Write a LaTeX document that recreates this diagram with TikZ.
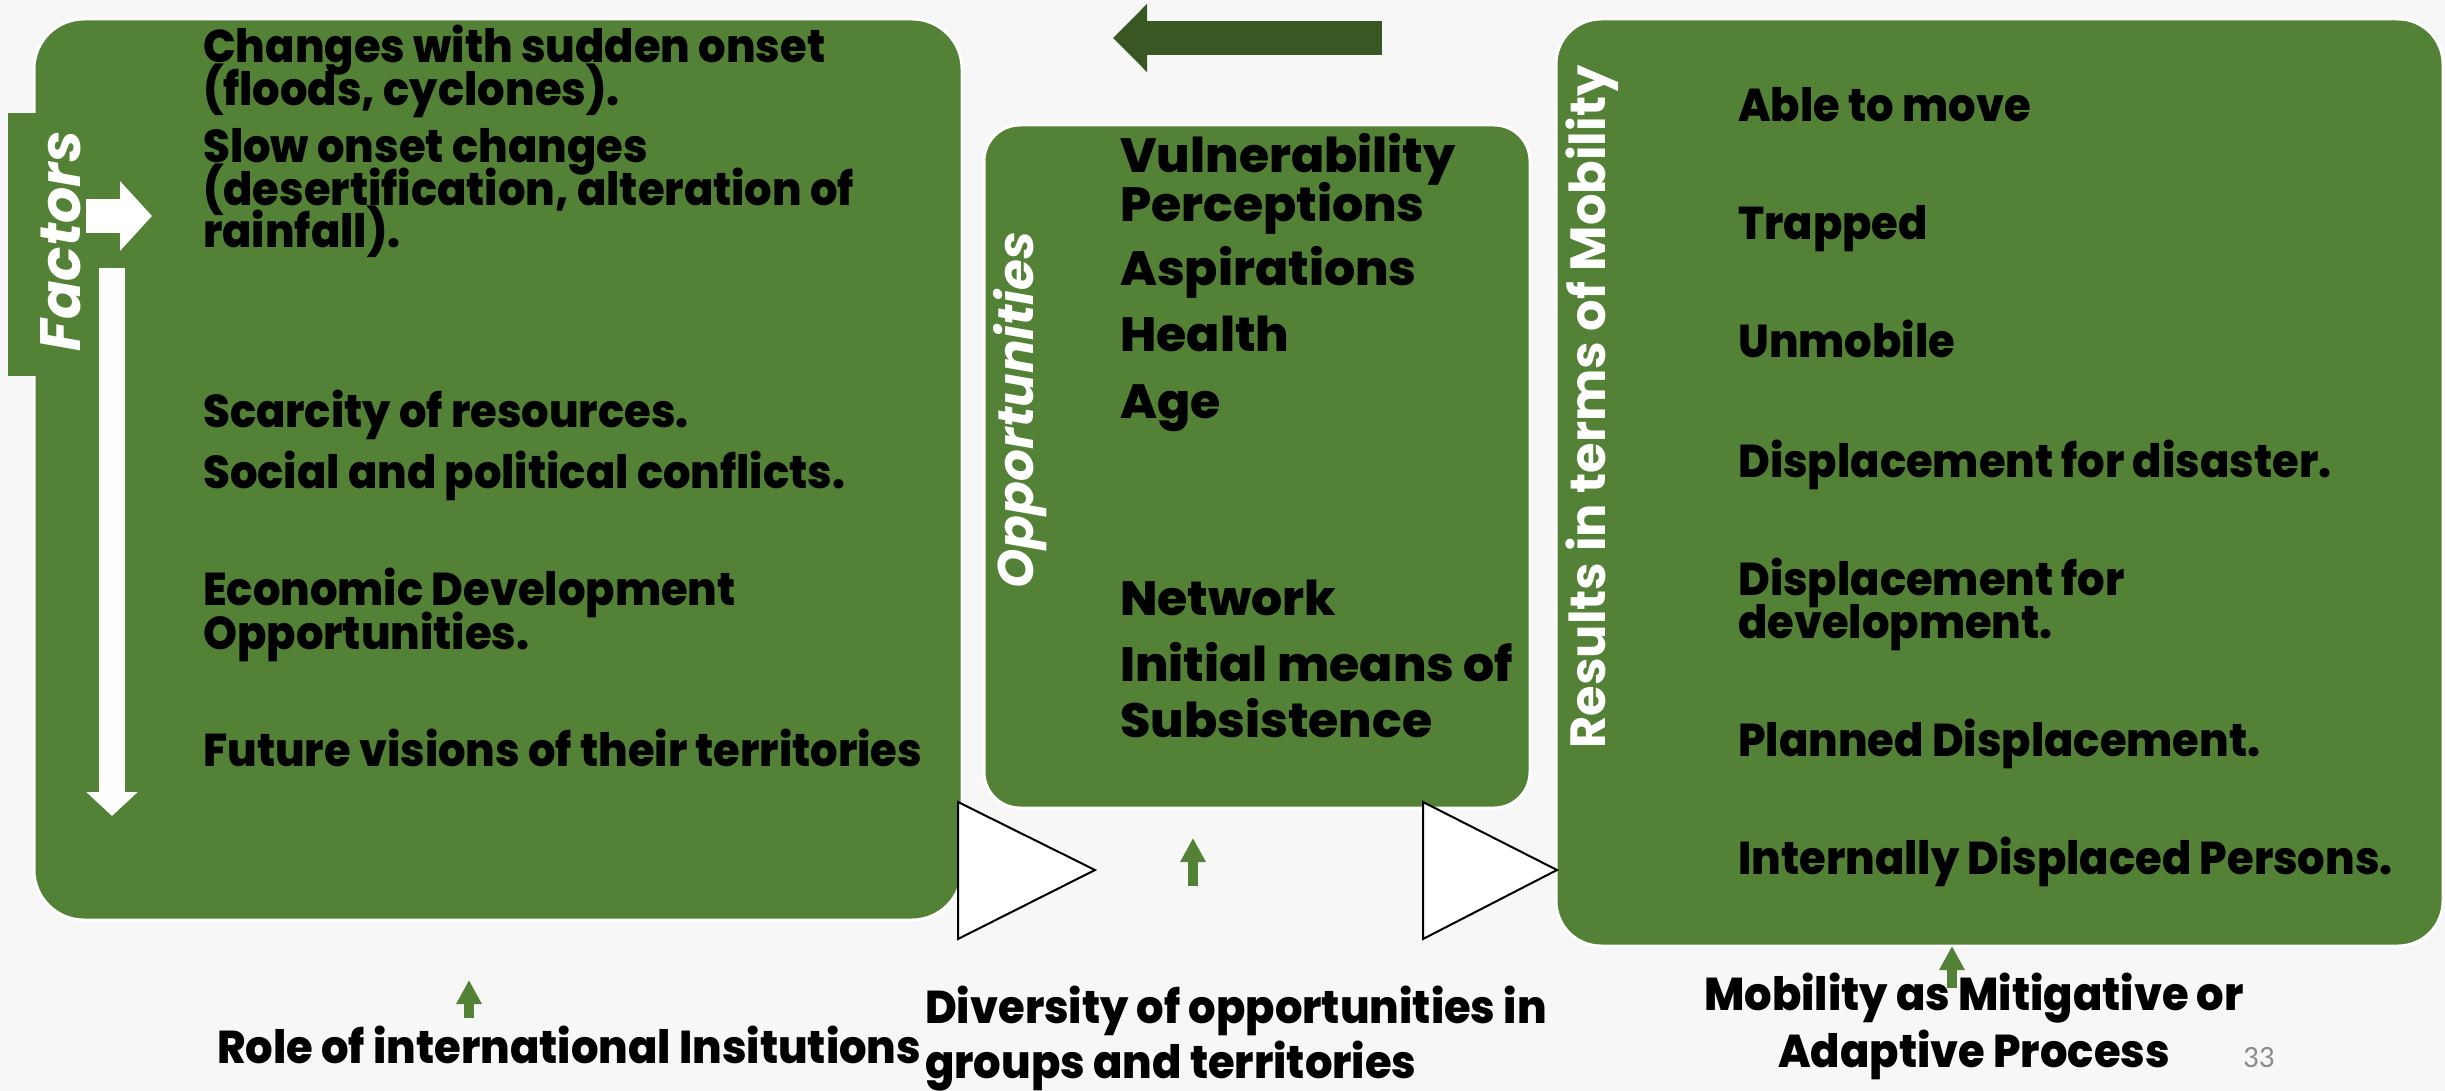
\documentclass[tikz,border=0pt]{standalone}
\usepackage{fontspec}
\setmainfont{Poppins}
\newfontfamily\widefont[FakeStretch=1.02, BoldFont={Poppins ExtraBold}]{Poppins}
\newfontfamily\narrowfont[FakeStretch=0.94, BoldFont={Poppins ExtraBold}]{Poppins}
\newfontfamily\titlefont{Poppins}
\newfontfamily\pagenumfont{Carlito}
\usetikzlibrary{arrows.meta}
\definecolor{leaf}{HTML}{538135}
\definecolor{darkleaf}{HTML}{385723}
\definecolor{paper}{HTML}{F7F7F7}
\definecolor{numgray}{HTML}{8C8C8C}
\tikzset{
  greenbox/.style={fill=leaf, draw=white, line width=3pt},
  playtri/.style={fill=white, draw=black, line width=2pt, line join=miter},
  item/.style={anchor=base west, inner sep=0pt, font=\narrowfont\bfseries\fontsize{46}{50}\selectfont, text=black},
  wideitem/.style={anchor=base west, inner sep=0pt, font=\widefont\bfseries\fontsize{48}{52}\selectfont, text=black},
  caption/.style={inner sep=0pt, font=\narrowfont\bfseries\fontsize{46}{50}\selectfont, text=black},
  sidetitle/.style={inner sep=0pt, rotate=90, text=white},
  smallup/.style={leaf, line width=10pt, -{Triangle[width=24pt,length=24pt]}},
}
\begin{document}
\begin{tikzpicture}[x=1pt,y=-1pt]
  % page
  \fill[paper] (0,0) rectangle (2445,1091);
  \useasboundingbox (0,0) rectangle (2445,1091);

  % three green panels
  \draw[greenbox, rounded corners=50pt] (34,19) rectangle (962,920);
  \fill[leaf] (8,113) rectangle (42,376);
  \draw[greenbox, rounded corners=36pt] (984,125) rectangle (1530,808);
  \draw[greenbox, rounded corners=45pt] (1556,19) rectangle (2443,946);

  % side titles
  \node[sidetitle, font=\titlefont\bfseries\itshape\fontsize{57}{57}\selectfont] (factors) at (61,241) {Factors};
  \node[sidetitle, font=\titlefont\bfseries\itshape\fontsize{50}{50}\selectfont] (opps) at (1020,410) {Opportunities};
  \node[sidetitle, font=\titlefont\bfseries\fontsize{49.5}{50}\selectfont] (results) at (1592,407) {Results in terms of Mobility};

  % white arrows inside the first panel
  \coordinate (ra0) at (86,216);
  \coordinate (ra1) at (152,216);
  \draw[white, line width=34pt, -{Triangle[width=68pt,length=32pt]}] (ra0) -- (ra1);
  \coordinate (da0) at (112,268);
  \coordinate (da1) at (112,816);
  \draw[white, line width=26pt, -{Triangle[width=50pt,length=24pt]}] (da0) -- (da1);

  % dark arrow at the top
  \coordinate (ta0) at (1382,38);
  \coordinate (ta1) at (1113,38);
  \draw[darkleaf, line width=34pt, -{Triangle[width=66pt,length=34pt]}] (ta0) -- (ta1);

  % factors
  \node[item] (f1) at (203,63) {Changes with sudden onset};
  \node[item] (f2) at (203,106) {(floods, cyclones).};
  \node[item] (f3) at (203,163) {Slow onset changes};
  \node[item] (f4) at (203,206) {(desertification, alteration of};
  \node[item] (f5) at (203,248) {rainfall).};
  \node[item] (f6) at (203,427) {Scarcity of resources.};
  \node[item] (f7) at (203,488) {Social and political conflicts.};
  \node[item] (f8) at (203,605) {Economic Development};
  \node[item] (f9) at (203,649) {Opportunities.};
  \node[item] (f10) at (203,766) {Future visions of their territories};

  % opportunities
  \node[wideitem] (o1) at (1120,173) {Vulnerability};
  \node[wideitem] (o2) at (1120,222) {Perceptions};
  \node[wideitem] (o3) at (1120,286) {Aspirations};
  \node[wideitem] (o4) at (1120,352) {Health};
  \node[wideitem] (o5) at (1120,418) {Age};
  \node[wideitem] (o6) at (1120,615) {Network};
  \node[wideitem] (o7) at (1120,681) {Initial means of};
  \node[wideitem] (o8) at (1120,737) {Subsistence};

  % results
  \node[item] (r1) at (1738,122) {Able to move};
  \node[item] (r2) at (1738,240) {Trapped};
  \node[item] (r3) at (1738,358) {Unmobile};
  \node[item] (r4) at (1738,477) {Displacement for disaster.};
  \node[item] (r5) at (1738,595) {Displacement for};
  \node[item] (r6) at (1738,638) {development.};
  \node[item] (r7) at (1738,756) {Planned Displacement.};
  \node[item] (r8) at (1738,874) {Internally Displaced Persons.};

  % flow triangles
  \draw[playtri] (958,802) -- (958,939) -- (1095,870) -- cycle;
  \draw[playtri] (1423,802) -- (1423,939) -- (1557,870) -- cycle;

  % captions under the panels
  \node[caption, anchor=base west] (c1) at (217,1063) {Role of international Insitutions};
  \node[caption, anchor=base west] (c2a) at (925,1023) {Diversity of opportunities in};
  \node[caption, anchor=base west] (c2b) at (925,1078) {groups and territories};
  \node[caption, anchor=base] (c3a) at (1974,1010) {Mobility as Mitigative or};
  \node[caption, anchor=base] (c3b) at (1974,1067) {Adaptive Process};
  \node[anchor=base west, inner sep=0pt, text=numgray, font=\pagenumfont\fontsize{31}{31}\selectfont] (pg) at (2243,1067) {33};

  % small green arrows
  \coordinate (u1a) at (469,1018);
  \coordinate (u1b) at (469,980);
  \draw[smallup] (u1a) -- (u1b);
  \coordinate (u2a) at (1193,886);
  \coordinate (u2b) at (1193,838);
  \draw[smallup] (u2a) -- (u2b);
  \coordinate (u3a) at (1952,988);
  \coordinate (u3b) at (1952,946);
  \draw[smallup] (u3a) -- (u3b);
\end{tikzpicture}
\end{document}
